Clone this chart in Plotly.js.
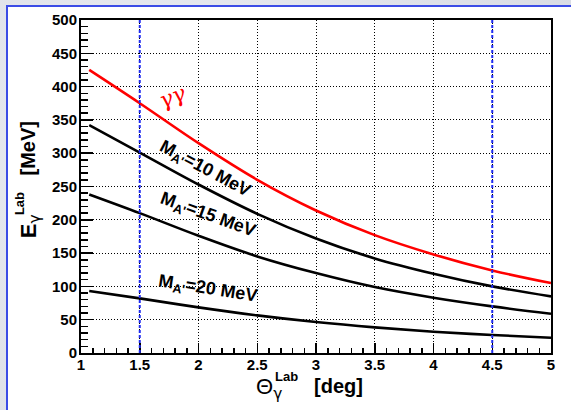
<!DOCTYPE html>
<html>
<head>
<meta charset="utf-8">
<script src="https://cdn.plot.ly/plotly-3.0.1.min.js"></script>
<style>
  html, body { margin:0; padding:0; width:571px; height:410px; overflow:hidden;
    background: radial-gradient(circle at 30% 40%, #eceef3 0%, #dfe2e9 60%, #d8dbe3 100%); }
  #panel { position:absolute; left:6px; top:5px; width:580px; height:420px; background:#ffffff;
    border-left:2px solid #3b4ce6; border-top:2px solid #3b4ce6; box-sizing:border-box; }
  #chart { position:absolute; left:0; top:0; width:571px; height:410px; }
</style>
</head>
<body>
<div id="panel"></div>
<div id="chart"></div>
<script>
// Lab angle of photon (deg)
const thetaDeg = [1.07, 1.5, 2.0, 2.5, 3.0, 3.5, 4.0, 4.5, 5.0];
// Photon lab energy (MeV)
const eGammaGamma = [425, 375, 315, 260, 214, 177, 148, 124, 105];
const eMass10 = [342, 301, 253, 209, 172, 142, 119, 100, 85];
const eMass15 = [238, 210, 176, 145, 120, 99, 83, 70, 59];
const eMass20 = [93, 82, 68.5, 56.5, 46.5, 38.5, 32, 27, 23];
// Angular acceptance limits (deg)
const cutLines = [1.5, 4.5];
// Curve labels
const labelText = ["γγ",
  "M<sub>A<span style='font-size:13px'>'</span></sub>=10 MeV",
  "M<sub>A<span style='font-size:13px'>'</span></sub>=15 MeV",
  "M<sub>A<span style='font-size:13px'>'</span></sub>=20 MeV"];
const labelX = [1.78, 2.055, 2.077, 2.08];
const labelY = [385, 276, 207, 96];
const labelAngle = [-22, 28, 20, 9];

const lineStyle = (c) => ({color: c, width: 2.6, shape: 'spline', smoothing: 1});
const traces = [
  {x: thetaDeg, y: eGammaGamma, mode: 'lines', line: lineStyle('#ff0000'), hoverinfo: 'skip'},
  {x: thetaDeg, y: eMass10, mode: 'lines', line: lineStyle('#000000'), hoverinfo: 'skip'},
  {x: thetaDeg, y: eMass15, mode: 'lines', line: lineStyle('#000000'), hoverinfo: 'skip'},
  {x: thetaDeg, y: eMass20, mode: 'lines', line: lineStyle('#000000'), hoverinfo: 'skip'}
];

const SANS = 'Liberation Sans, Arial, sans-serif';
const bold = {family: SANS, size: 15, color: '#000', weight: 'bold'};
const G = "<span style='font-family:DejaVu Sans;font-weight:normal'>γ</span>";

const annotations = labelText.map((t, i) => ({
  x: labelX[i], y: labelY[i], xref: 'x', yref: 'y', text: t, showarrow: false,
  textangle: labelAngle[i],
  font: i === 0
    ? {family: 'DejaVu Serif, serif', size: 22, color: '#ff0000', style: 'italic', weight: 'normal'}
    : {family: SANS, size: 18, color: '#000', weight: 'bold'}
}));

// Axis titles (sub/superscripts stacked as in the reference)
const titleParts = [
  {text: "Θ<sub>" + G + "</sub>", x: 0.400, y: -0.108, angle: 0, size: 22, weight: 'normal'},
  {text: "Lab", x: 0.438, y: -0.072, angle: 0, size: 13, weight: 'bold'},
  {text: "[deg]", x: 0.548, y: -0.099, angle: 0, size: 20, weight: 'bold'},
  {text: "E<sub>" + G + "</sub>", x: -0.1085, y: 0.381, angle: -90, size: 22, weight: 'bold'},
  {text: "Lab", x: -0.132, y: 0.450, angle: -90, size: 13, weight: 'bold'},
  {text: "[MeV]", x: -0.1117, y: 0.6126, angle: -90, size: 20, weight: 'bold'}
];
titleParts.forEach(p => annotations.push({
  x: p.x, y: p.y, xref: 'paper', yref: 'paper', text: p.text, showarrow: false,
  textangle: p.angle, xanchor: 'center', yanchor: 'middle',
  font: {family: SANS, size: p.size, color: '#000', weight: p.weight}
}));

const shapes = cutLines.map(v => ({
  type: 'line', xref: 'x', yref: 'paper', x0: v, x1: v, y0: 0, y1: 1,
  line: {color: '#1f2bf0', width: 2, dash: '3px,2px'}, layer: 'above'
}));

const layout = {
  width: 571, height: 410,
  margin: {l: 81, r: 20, t: 20, b: 57},
  paper_bgcolor: 'rgba(0,0,0,0)',
  plot_bgcolor: '#ffffff',
  showlegend: false,
  font: bold,
  xaxis: {
    range: [1, 5], tick0: 1, dtick: 0.5, ticks: 'inside', ticklen: 10, tickwidth: 1.5, tickcolor: '#000',
    showline: true, linewidth: 2, linecolor: '#000', mirror: true,
    showgrid: true, gridcolor: '#000', gridwidth: 1, griddash: '1px,2px',
    zeroline: false, tickfont: bold, ticklabelstandoff: -3,
    minor: {dtick: 0.1, ticks: 'inside', ticklen: 5, tickwidth: 1.5, tickcolor: '#000', showgrid: false}
  },
  yaxis: {
    range: [0, 500], tick0: 0, dtick: 50, ticks: 'inside', ticklen: 12, tickwidth: 1.5, tickcolor: '#000',
    showline: true, linewidth: 2, linecolor: '#000', mirror: true,
    showgrid: true, gridcolor: '#000', gridwidth: 1, griddash: '1px,2px',
    zeroline: false, tickfont: bold, ticklabelstandoff: -1,
    minor: {dtick: 10, ticks: 'inside', ticklen: 7, tickwidth: 1.5, tickcolor: '#000', showgrid: false}
  },
  annotations: annotations,
  shapes: shapes
};

Plotly.newPlot('chart', traces, layout, {staticPlot: true, displayModeBar: false});
</script>
</body>
</html>
